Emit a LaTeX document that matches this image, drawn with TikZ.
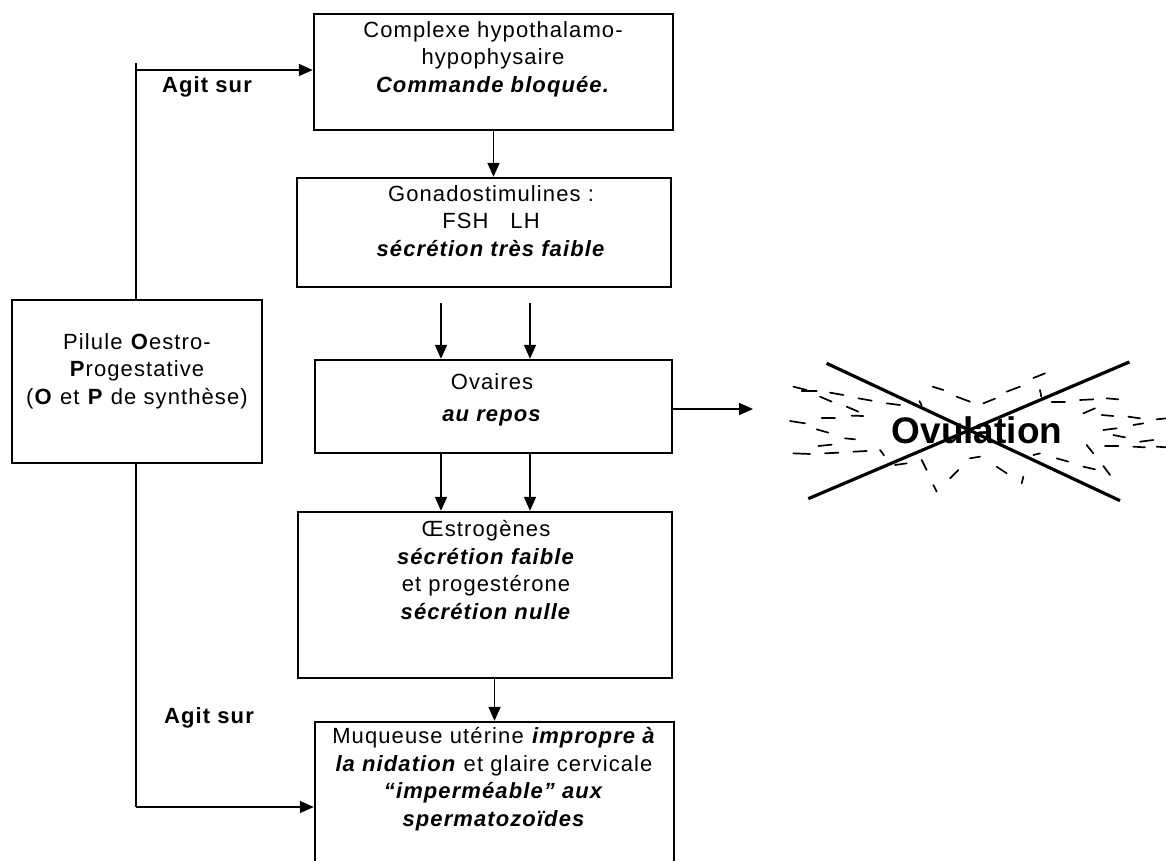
\documentclass[tikz,border=0pt]{standalone}
\usepackage{fontspec}
\setmainfont{Liberation Sans}[LetterSpace=5]
\usetikzlibrary{arrows.meta}
\begin{document}
\begin{tikzpicture}[x=1pt,y=-1pt,
  box/.style={draw,line width=2.4pt,inner sep=0pt},
  txt/.style={align=center,inner sep=0pt,font=\fontsize{22}{27.5}\selectfont},
  lab/.style={inner sep=0pt,font=\fontsize{22}{27}\selectfont\bfseries},
  arr/.style={line width=1.8pt,-{Triangle[length=14pt,width=12pt]}},
  ln/.style={line width=1.8pt},
  dsh/.style={line width=1.7pt,line cap=round}]
\useasboundingbox (0,0) rectangle (1166,861);
\clip (0,0) rectangle (1166,861);
% boxes
\node[box,minimum width=359pt,minimum height=116pt] (b1) at (493.5,72) {};
\node[box,minimum width=374pt,minimum height=109pt] (b2) at (484,232.5) {};
\node[box,minimum width=357pt,minimum height=93pt] (b3) at (493.5,406.5) {};
\node[box,minimum width=374pt,minimum height=166pt] (b4) at (485,595) {};
\node[box,minimum width=359pt,minimum height=178pt] (b5) at (494.5,811) {};
\node[box,minimum width=250pt,minimum height=163pt] (pil) at (137,381.5) {};
% texts
\node[txt] (t1) at (493,59) {Complexe hypothalamo-\\hypophysaire\\\textbf{\textit{Commande bloquée.}}};
\node[txt] (t2) at (491,221) {Gonadostimulines :\\FSH\quad LH\\\textbf{\textit{sécrétion très faible}}};
\node[txt] (t3) at (492,400) {Ovaires\\[5pt]\textbf{\textit{au repos}}};
\node[txt] (t4) at (486,570) {Œstrogènes\\\textbf{\textit{sécrétion faible}}\\et progestérone\\\textbf{\textit{sécrétion nulle}}};
\node[txt] (t5) at (494,779) {Muqueuse utérine \textbf{\textit{impropre à}}\\\textbf{\textit{la nidation}} et glaire cervicale\\\textbf{\textit{“imperméable” aux}}\\\textbf{\textit{spermatozoïdes}}};
\node[txt] (tp) at (137,371) {Pilule \textbf{O}estro-\\\textbf{P}rogestative\\(\textbf{O} et \textbf{P} de synthèse)};
\node[lab] (ag1) at (207,87) {Agit sur};
\node[lab] (ag2) at (209,718) {Agit sur};
% connectors
\coordinate (c0) at (136,63);
\coordinate (c1) at (136,70);
\coordinate (c2) at (136,807);
\coordinate (a1) at (441,303);
\coordinate (a2) at (530,303);
\coordinate (ov) at (753,409);
\draw[ln] (pil.north -| c0) -- (c0);
\draw[arr] (c1) -- (c1 -| b1.west);
\draw[ln] (pil.south -| c2) -- (c2);
\draw[arr] (c2) -- (c2 -| b5.west);
\draw[arr] (b1.south -| b1.north) -- (b2.north -| b1.north);
\draw[arr] (a1) -- (a1 |- b3.north);
\draw[arr] (a2) -- (a2 |- b3.north);
\draw[arr] (b3.south -| a1) -- (b4.north -| a1);
\draw[arr] (b3.south -| a2) -- (b4.north -| a2);
\draw[arr] (b4.south -| b5.north) -- (b5.north);
\draw[arr] (b3.east |- ov) -- (ov);
% ovulation
\begin{scope}[shift={(740,340)},scale=1/3]
\foreach \a/\b/\c/\d in {
160/140/200/150, 185/152/230/152, 240/170/275/185, 270/158/310/165,
320/200/355/215, 335/227/370/228, 355/175/395/182, 440/190/480/195,
150/243/195/250, 245/235/285/235, 230/268/265/278, 315/295/345/298,
160/340/210/342, 235/318/275/314, 255/340/295/338, 340/335/380/333,
420/330/432/346, 465/375/500/370, 538/183/545/196, 578/140/610/150,
650/170/690/185, 730/190/765/176, 800/155/840/140, 880/114/915/100,
900/150/904/170, 935/185/975/185, 1020/180/1060/178, 1100/175/1135/178,
1030/220/1065/205, 1085/225/1120/228, 1165/230/1200/235, 1250/238/1280/235,
1090/270/1130/265, 1120/285/1155/292, 1180/255/1210/250, 1095/318/1135/318,
1180/320/1215/322, 1200/305/1240/300, 1250/320/1280/322, 1040/315/1060/340,
1030/380/1065/388, 1090/378/1110/405, 950/355/985/365, 880/345/900/340,
850/410/845/430, 770/380/800/400, 690/355/720/350, 655/390/630/415,
580/435/590/455, 545/360/560/390}
  \draw[dsh] (\a,\b) -- (\c,\d);
\coordinate (x1) at (260,70);
\coordinate (x2) at (1140,482);
\coordinate (x3) at (205,476);
\coordinate (x4) at (1168,66);
\draw[line width=3.2pt] (x1) -- (x2);
\draw[line width=3.2pt] (x3) -- (x4);
\end{scope}
\node[inner sep=0pt,font=\fontsize{37}{40}\selectfont\bfseries\addfontfeature{LetterSpace=0}] (ovu) at (977,430) {Ovulation};
\end{tikzpicture}
\end{document}
